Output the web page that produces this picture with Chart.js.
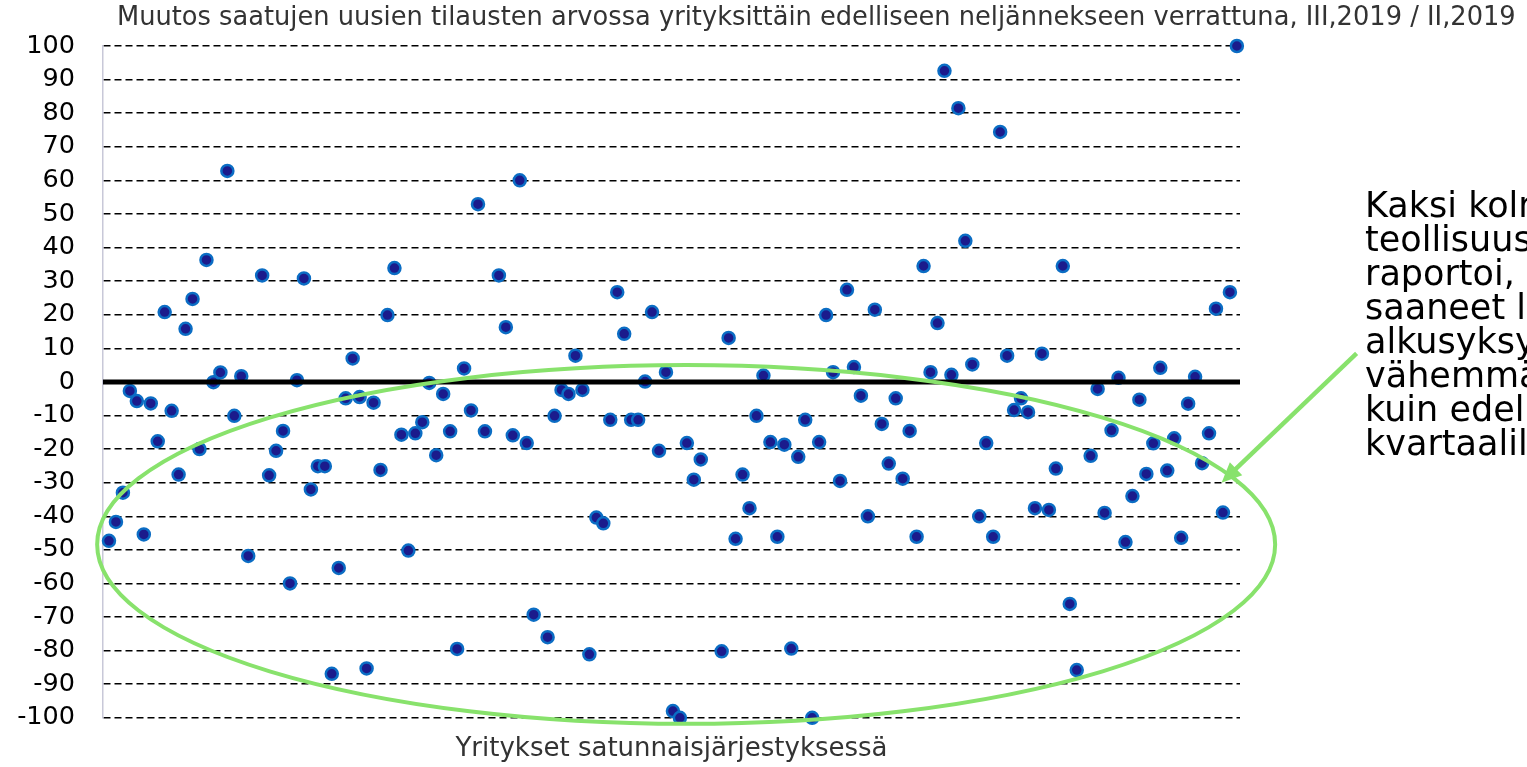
<!DOCTYPE html>
<html>
<head>
<meta charset="utf-8">
<script src="https://cdn.jsdelivr.net/npm/chart.js@4.4.1/dist/chart.umd.min.js"></script>
<style>
  html, body { margin: 0; padding: 0; background: #fff; }
  #wrap { width: 1527px; height: 767px; position: relative; }
</style>
</head>
<body>
<div id="wrap"><canvas id="myChart"></canvas></div>
<script>
const chartTitle = "Muutos saatujen uusien tilausten arvossa yrityksittäin edelliseen neljännekseen verrattuna, III,2019 / II,2019";
const xTitle = "Yritykset satunnaisjärjestyksessä";
const noteLines = [
  "Kaksi kolmesta",
  "teollisuusyrityksestä",
  "raportoi, että ne ovat",
  "saaneet loppukesällä ja",
  "alkusyksyllä",
  "vähemmän tilauksia",
  "kuin edellisellä",
  "kvartaalilla"
];

const yTickValues = [-100, -90, -80, -70, -60, -50, -40, -30, -20, -10, 0,
  10, 20, 30, 40, 50, 60, 70, 80, 90, 100];

// muutos % per yritys, satunnaisessa järjestyksessä (null = tyhjä paikka)
const orderChange = [
  -47.3, -41.7, -33, -2.7, -5.7, -45.4, -6.4, -17.7, 20.8, -8.6,
  -27.6, 15.8, 24.7, -20, 36.3, -0.1, 2.8, 62.8, -10.1, 1.7,
  -51.8, null, 31.7, -27.8, -20.5, -14.6, -60, 0.5, 30.8, -32,
  -25.1, -25.1, -86.9, -55.4, -4.9, 7, -4.5, -85.3, -6.2, -26.2,
  19.9, 33.9, -15.7, -50.2, -15.3, -12, -0.3, -21.8, -3.6, -14.7,
  -79.5, 4, -8.5, 52.9, -14.7, null, 31.7, 16.3, -15.9, 60,
  -18.2, -69.3, null, -76, -10.1, -2.4, -3.6, 7.8, -2.4, -81.1,
  -40.4, -42.1, -11.3, 26.7, 14.3, -11.3, -11.3, 0.1, 20.8, -20.5,
  2.9, -98, -100, -18.2, -29.1, -23.1, null, null, -80.2, 13.1,
  -46.7, -27.6, -37.6, -10.1, 1.9, -17.9, -46.1, -18.7, -79.4, -22.3,
  -11.3, -100, -17.9, 19.9, 2.9, -29.5, 27.4, 4.4, -4.1, -40,
  21.5, -12.5, -24.3, -4.9, -28.8, -14.6, -46.1, 34.5, 2.9, 17.5,
  92.6, 2.1, 81.5, 42, 5.2, -40, -18.2, -46.1, 74.4, 7.8,
  -8.4, -4.9, -9, -37.6, 8.4, -38.1, -25.8, 34.5, -66.1, -85.8,
  null, -22, -2.1, -39, -14.4, 1.2, -47.7, -34, -5.3, -27.4,
  -18.3, 4.2, -26.4, -16.8, -46.4, -6.5, 1.5, -24.2, -15.3, 21.8,
  -38.9, 26.7, 100
];
const zeroLevel = 0;

const X_MIN = -0.86;
const X_MAX = 162.45;

// vihreä rengas ja nuoli (akselin yksiköissä)
const ring = { cx: 82.9, cy: -48.4, rx: 84.6, ry: 53.4 };
const arrow = { x1: 179.2, y1: 8.5, x2: 159.8, y2: -30 };
const GREEN = "#88e26c";

const points = [];
for (let i = 0; i < orderChange.length; i++) {
  if (orderChange[i] !== null) points.push({ x: i, y: orderChange[i] });
}

const overlay = {
  id: "overlay",
  afterDatasetsDraw(chart) {
    const ctx = chart.ctx;
    const xs = chart.scales.x;
    const ys = chart.scales.y;
    ctx.save();
    // ellipse
    const cx = xs.getPixelForValue(ring.cx);
    const cy = ys.getPixelForValue(ring.cy);
    const rx = xs.getPixelForValue(ring.cx + ring.rx) - cx;
    const ry = ys.getPixelForValue(ring.cy) - ys.getPixelForValue(ring.cy + ring.ry);
    ctx.strokeStyle = GREEN;
    ctx.lineWidth = 4;
    ctx.beginPath();
    ctx.ellipse(cx, cy, rx, ry, 0, 0, Math.PI * 2);
    ctx.stroke();
    // arrow
    const ax1 = xs.getPixelForValue(arrow.x1), ay1 = ys.getPixelForValue(arrow.y1);
    const ax2 = xs.getPixelForValue(arrow.x2), ay2 = ys.getPixelForValue(arrow.y2);
    const ang = Math.atan2(ay2 - ay1, ax2 - ax1);
    const head = 22;
    ctx.lineWidth = 4.5;
    ctx.beginPath();
    ctx.moveTo(ax1, ay1);
    ctx.lineTo(ax2 - Math.cos(ang) * head * 0.8, ay2 - Math.sin(ang) * head * 0.8);
    ctx.stroke();
    ctx.fillStyle = GREEN;
    ctx.beginPath();
    ctx.moveTo(ax2, ay2);
    ctx.lineTo(ax2 - head * Math.cos(ang - 0.42), ay2 - head * Math.sin(ang - 0.42));
    ctx.lineTo(ax2 - head * Math.cos(ang + 0.42), ay2 - head * Math.sin(ang + 0.42));
    ctx.closePath();
    ctx.fill();
    ctx.restore();
  },
  afterDraw(chart) {
    const ctx = chart.ctx;
    ctx.save();
    ctx.fillStyle = "#333333";
    ctx.font = "25.7px 'DejaVu Sans'";
    ctx.textBaseline = "middle";
    ctx.textAlign = "left";
    ctx.fillText(chartTitle, 117, 18);
    ctx.fillStyle = "#000000";
    ctx.font = "35px 'DejaVu Sans'";
    for (let i = 0; i < noteLines.length; i++) {
      ctx.fillText(noteLines[i], 1365, 208 + i * 34);
    }
    ctx.restore();
  }
};

const ctx = document.getElementById("myChart");
new Chart(ctx, {
  type: "scatter",
  data: {
    datasets: [
      {
        type: "line",
        data: [{ x: X_MIN, y: zeroLevel }, { x: X_MAX, y: zeroLevel }],
        borderColor: "#000000",
        borderWidth: 5,
        pointRadius: 0,
        order: 0
      },
      {
        data: points,
        pointRadius: 6,
        pointBorderWidth: 2.5,
        backgroundColor: "#1b1b8c",
        borderColor: "#0b6dc4",
        clip: false,
        order: 1
      }
    ]
  },
  options: {
    responsive: true,
    maintainAspectRatio: false,
    animation: false,
    devicePixelRatio: 1,
    layout: { padding: { top: 46, right: 287, bottom: 2, left: 0 } },
    plugins: {
      legend: { display: false },
      tooltip: { enabled: false }
    },
    scales: {
      x: {
        type: "linear",
        min: X_MIN,
        max: X_MAX,
        grid: { display: false },
        border: { display: false },
        ticks: { display: false },
        title: {
          display: true,
          text: xTitle,
          color: "#333333",
          font: { family: "'DejaVu Sans'", size: 26 },
          padding: { top: 8, bottom: 0 }
        }
      },
      y: {
        min: -100,
        max: 100,
        afterBuildTicks(scale) {
          scale.ticks = yTickValues.map(v => ({ value: v }));
        },
        afterFit(scale) { scale.width = 103; },
        grid: { color: "#000000", lineWidth: 1.5, drawTicks: false },
        border: { display: true, color: "#c8c8d8", width: 1.5, dash: [7, 4] },
        ticks: {
          autoSkip: false,
          padding: 28,
          color: "#000000",
          font: { family: "'DejaVu Sans'", size: 25.5 }
        }
      }
    }
  },
  plugins: [overlay]
});
</script>
</body>
</html>
